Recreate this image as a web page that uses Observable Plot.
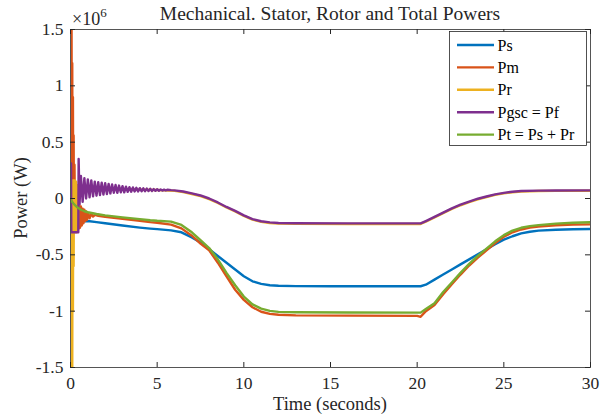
<!DOCTYPE html>
<html><head><meta charset="utf-8">
<script src="https://cdn.jsdelivr.net/npm/d3@7"></script>
<script src="https://cdn.jsdelivr.net/npm/@observablehq/plot@0.6"></script>
<style>body{margin:0;background:#fff} #chart{width:607px;height:418px}</style>
</head><body><div id="chart"></div>
<script>
const titleText = "Mechanical. Stator, Rotor and Total Powers";
const xLabel = "Time (seconds)";
const yLabel = "Power (W)";
const xTicks = [0, 5, 10, 15, 20, 25, 30];
const yTicks = [-1.5, -1, -0.5, 0, 0.5, 1, 1.5];
const seriesNames = ["Ps", "Pm", "Pr", "Pgsc = Pf", "Pt = Ps + Pr"];
const seriesColors = ["#0072BD", "#D95319", "#EDB120", "#7E2F8E", "#77AC30"];

// values in units of 1e6 W, [time (s), power]
const ps = [[0.46,-0.1],[0.48,-0.18],[0.6,-0.205],[1,-0.2],[1.5,-0.21],[2,-0.22],[3,-0.24],[4,-0.258],[4.6,-0.267],[5,-0.272],[5.8,-0.283],[6.4,-0.3],[7,-0.345],[7.5,-0.39],[8,-0.45],[8.5,-0.51],[9,-0.57],[9.5,-0.63],[10,-0.69],[10.5,-0.735],[11,-0.758],[11.5,-0.77],[12,-0.775],[13,-0.778],[15,-0.779],[18,-0.779],[20.2,-0.779],[20.5,-0.765],[21,-0.72],[21.5,-0.675],[22,-0.63],[22.5,-0.585],[23,-0.54],[23.5,-0.495],[24,-0.45],[24.5,-0.405],[25,-0.365],[25.5,-0.335],[26,-0.31],[26.5,-0.295],[27,-0.285],[28,-0.277],[29,-0.273],[30,-0.27]];

const pm = [[0,0],[0.02,1.6],[0.04,-0.3],[0.06,1.6],[0.08,-0.3],[0.1,1.2],[0.12,-0.3],[0.14,0.9],[0.16,-0.3],[0.18,0.56],[0.2,-0.28],[0.23,0.3],[0.26,-0.28],[0.29,0.15],[0.32,-0.27],[0.35,0.05],[0.38,-0.27],[0.42,0.0],[0.46,-0.27],[0.5,-0.05],[0.55,-0.26],[0.6,-0.07],[0.65,-0.24],[0.7,-0.09],[0.75,-0.22],[0.8,-0.1],[0.85,-0.2],[0.9,-0.115],[0.95,-0.19],[1.0,-0.125],[1.1,-0.175],[1.2,-0.135],[1.3,-0.16],[1.4,-0.145],[1.6,-0.153],[2,-0.163],[3,-0.18],[4,-0.197],[4.6,-0.21],[5,-0.215],[5.8,-0.232],[6.4,-0.265],[7,-0.33],[7.5,-0.4],[8,-0.46],[8.5,-0.57],[9,-0.69],[9.5,-0.81],[10,-0.9],[10.5,-0.965],[11,-1.005],[11.5,-1.024],[12,-1.032],[13,-1.037],[16,-1.04],[20,-1.042],[20.2,-1.05],[20.5,-1.0],[21,-0.945],[21.5,-0.85],[22,-0.76],[22.5,-0.675],[23,-0.595],[23.5,-0.525],[24,-0.46],[24.5,-0.395],[25,-0.34],[25.5,-0.3],[26,-0.275],[26.5,-0.258],[27,-0.248],[28,-0.237],[29,-0.232],[30,-0.23]];

const pr = [[0,0],[0.02,-1.6],[0.04,0.15],[0.06,-1.6],[0.08,0.15],[0.1,-1.6],[0.12,0.16],[0.14,-1.0],[0.16,0.16],[0.18,-0.6],[0.2,0.16],[0.23,-0.3],[0.26,0.16],[0.29,-0.3],[0.32,0.15],[0.35,-0.3],[0.38,0.12],[0.42,-0.28],[0.46,0.1],[0.5,0.02],[0.6,0.09],[0.8,0.085],[1,0.085],[2,0.085],[3,0.082],[4,0.078],[5,0.075],[6,0.068],[6.5,0.057],[7,0.04],[7.5,0.022],[8,-0.005],[8.5,-0.04],[9,-0.08],[9.5,-0.115],[10,-0.155],[10.5,-0.188],[11,-0.207],[11.5,-0.217],[12,-0.222],[13,-0.225],[16,-0.226],[20.2,-0.226],[20.5,-0.206],[21,-0.168],[21.5,-0.13],[22,-0.093],[22.5,-0.06],[23,-0.032],[23.5,-0.007],[24,0.013],[24.5,0.032],[25,0.045],[25.5,0.055],[26,0.061],[27,0.066],[28,0.068],[30,0.069]];

const pgsc = [[0,0.0],[0.01,0.3],[0.02,-0.2],[0.03,0.31],[0.045,-0.3],[0.06,-0.3],[0.45,-0.3],[0.47,0.35],[0.52,-0.05],[0.6,0.2],[0.7,-0.03],[0.8,0.18],[0.9,0.0],[1.0,0.17],[1.1,0.01],[1.2,0.16],[1.3,0.02],[1.4,0.15],[1.5,0.025],[1.6,0.145],[1.7,0.03],[1.8,0.14],[1.9,0.035],[2.0,0.135],[2.1,0.04],[2.2,0.13],[2.3,0.045],[2.4,0.125],[2.5,0.05],[2.6,0.12],[2.7,0.05],[2.8,0.115],[2.9,0.055],[3.0,0.11],[3.1,0.055],[3.2,0.105],[3.3,0.06],[3.4,0.1],[3.5,0.06],[3.6,0.098],[3.7,0.062],[3.8,0.095],[3.9,0.063],[4.0,0.092],[4.1,0.064],[4.2,0.09],[4.3,0.065],[4.4,0.088],[4.5,0.066],[4.6,0.086],[4.7,0.067],[4.8,0.084],[4.9,0.068],[5.0,0.082],[5.1,0.069],[5.2,0.08],[5.3,0.07],[5.4,0.079],[5.5,0.071],[5.6,0.078],[5.8,0.074],[6,0.072],[6.5,0.062],[7,0.045],[7.5,0.027],[8,0.0],[8.5,-0.035],[9,-0.075],[9.5,-0.11],[10,-0.15],[10.5,-0.183],[11,-0.202],[11.5,-0.212],[12,-0.217],[13,-0.22],[16,-0.221],[20.2,-0.221],[20.5,-0.2],[21,-0.163],[21.5,-0.125],[22,-0.088],[22.5,-0.055],[23,-0.027],[23.5,-0.002],[24,0.018],[24.5,0.037],[25,0.05],[25.5,0.06],[26,0.066],[27,0.07],[28,0.071],[30,0.072]];

const pt = [[0,-0.01],[0.2,-0.05],[0.4,-0.08],[0.6,-0.1],[0.8,-0.113],[1,-0.122],[1.5,-0.138],[2,-0.15],[3,-0.168],[4,-0.183],[4.6,-0.193],[5,-0.198],[5.8,-0.205],[6.4,-0.235],[7,-0.3],[7.5,-0.37],[8,-0.44],[8.5,-0.54],[9,-0.66],[9.5,-0.77],[10,-0.87],[10.5,-0.94],[11,-0.978],[11.5,-0.997],[12,-1.006],[13,-1.01],[16,-1.012],[20.2,-1.013],[20.5,-0.98],[21,-0.93],[21.5,-0.83],[22,-0.745],[22.5,-0.66],[23,-0.58],[23.5,-0.51],[24,-0.445],[24.5,-0.38],[25,-0.325],[25.5,-0.285],[26,-0.26],[26.5,-0.245],[27,-0.236],[28,-0.223],[29,-0.215],[30,-0.21]];

const seriesData = [ps, pm, pr, pgsc, pt];
const rows = seriesData.flatMap((s, i) => s.map(([t, v]) => ({t, v, name: seriesNames[i]})));

const W = 607, H = 418, mL = 70, mR = 17, mT = 29, mB = 51;
const plotW = W - mL - mR, plotH = H - mT - mB;
const tk = 5;
const font = "'Liberation Serif', 'Times New Roman', serif";
const ink = "#262626";

const svg = Plot.plot({
  width: W, height: H,
  marginLeft: mL, marginRight: mR, marginTop: mT, marginBottom: mB,
  style: {fontFamily: font, fontSize: "17px", background: "#fff", color: ink},
  x: {domain: [0, 30]},
  y: {domain: [-1.5, 1.5]},
  color: {domain: seriesNames, range: seriesColors},
  marks: [
    Plot.line(rows, {x: "t", y: "v", z: "name", stroke: "name", strokeWidth: 2.4, clip: true}),
    Plot.frame({stroke: "#555", strokeWidth: 1}),
    Plot.tickX(xTicks, {x: d => d, insetTop: plotH - tk, stroke: ink}),
    Plot.tickX(xTicks, {x: d => d, insetBottom: plotH - tk, stroke: ink}),
    Plot.tickY(yTicks, {y: d => d, insetRight: plotW - tk, stroke: ink}),
    Plot.tickY(yTicks, {y: d => d, insetLeft: plotW - tk, stroke: ink}),
    Plot.axisX({ticks: xTicks, tickSize: 0, tickPadding: 9, label: null, fontSize: 17.5, tickFormat: d => String(d)}),
    Plot.axisY({ticks: yTicks, tickSize: 0, tickPadding: 7, label: null, fontSize: 17.5, tickFormat: d => String(d)})
  ]
});
document.getElementById("chart").appendChild(svg);

const s = d3.select(svg);
const cx = mL + plotW / 2;
s.append("text").attr("x", cx).attr("y", 20).attr("text-anchor", "middle")
  .attr("font-size", 19.5).attr("fill", ink).attr("font-family", font).text(titleText);
s.append("text").attr("x", cx).attr("y", 410).attr("text-anchor", "middle")
  .attr("font-size", 18.5).attr("fill", ink).attr("font-family", font).text(xLabel);
s.append("text").attr("transform", `translate(27,${mT + plotH / 2}) rotate(-90)`).attr("text-anchor", "middle")
  .attr("font-size", 18.5).attr("fill", ink).attr("font-family", font).text(yLabel);
const exp = s.append("text").attr("x", 72).attr("y", 25).attr("text-anchor", "start")
  .attr("font-size", 18).attr("fill", ink).attr("font-family", font);
exp.append("tspan").text("\u00D710");
exp.append("tspan").attr("font-size", 13).attr("dy", -8).text("6");

// legend
const lg = s.append("g");
lg.append("rect").attr("x", 449.5).attr("y", 31.5).attr("width", 137).attr("height", 114)
  .attr("fill", "#fff").attr("stroke", ink).attr("stroke-width", 0.8);
seriesNames.forEach((n, i) => {
  const y = 45 + i * 22.4;
  lg.append("line").attr("x1", 457).attr("x2", 494).attr("y1", y).attr("y2", y)
    .attr("stroke", seriesColors[i]).attr("stroke-width", 2.4);
  lg.append("text").attr("x", 497.5).attr("y", y + 5.5).attr("text-anchor", "start").attr("font-size", 16)
    .attr("fill", "#000").attr("font-family", font).text(n);
});
</script></body></html>
